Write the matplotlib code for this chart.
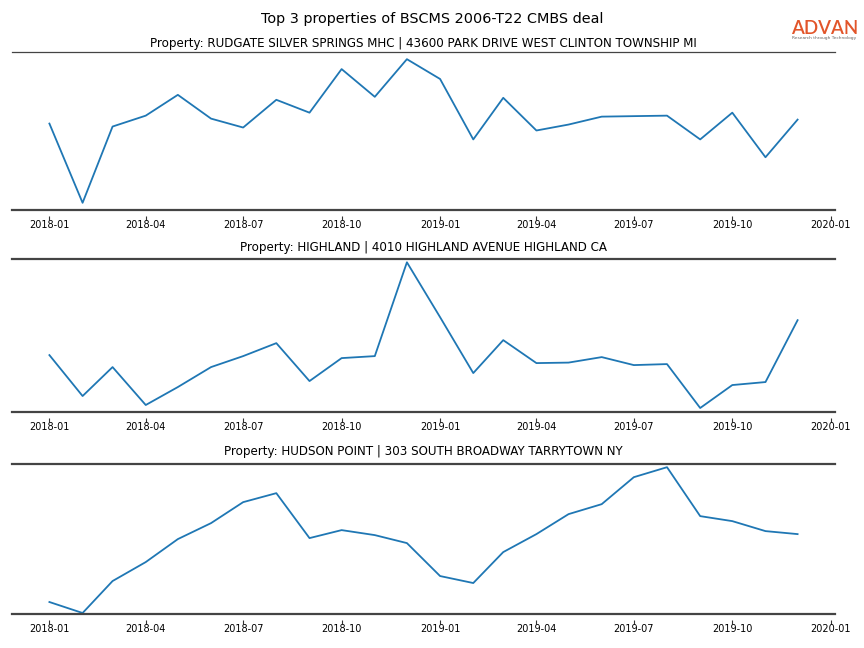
import matplotlib
matplotlib.use("Agg")
import matplotlib.pyplot as plt
import pandas as pd

months = pd.date_range("2018-01-01", "2019-12-01", freq="MS")

titles = [
    "Property: RUDGATE SILVER SPRINGS MHC | 43600 PARK DRIVE WEST CLINTON TOWNSHIP MI",
    "Property: HIGHLAND | 4010 HIGHLAND AVENUE HIGHLAND CA",
    "Property: HUDSON POINT | 303 SOUTH BROADWAY TARRYTOWN NY",
]

rudgate = [96, 16, 93, 104, 125, 101, 92, 120, 107, 151, 123, 161,
           141, 80, 122, 89, 95, 103, 103.5, 104, 80, 107, 62, 100]
highland = [65, 24, 53, 15, 33, 53, 64, 77, 39, 62, 64, 158,
            103, 47, 80, 57, 57.5, 63, 55, 56, 12, 35, 38, 100]
hudson = [18, 7, 39, 58, 81, 97, 118, 127, 82, 90, 85, 77,
          44, 37, 68, 86, 106, 116, 143, 153, 104, 99, 89, 86]

series = [rudgate, highland, hudson]
ylims = [(8.75, 168.25), (8, 161.3), (6, 156.7)]

tick_dates = pd.date_range("2018-01-01", "2020-01-01", freq="3MS")
tick_labels = [d.strftime("%Y-%m") for d in tick_dates]

fig = plt.figure(figsize=(8.64, 6.48), dpi=100)

# axes boxes in pixel coords: (top, bottom)
boxes = [(52, 210), (259, 412), (463.5, 614)]
left, right = 12, 835
W, H = 864, 648
pads = [3.5, 6, 6]
spine_col = "#444444"

for i, (vals, title, ylim, (top, bot)) in enumerate(zip(series, titles, ylims, boxes)):
    ax = fig.add_axes([left / W, 1 - bot / H, (right - left) / W, (bot - top) / H])
    ax.plot(months, vals, color="#1f77b4", lw=1.3)
    ax.set_ylim(*ylim)
    ax.set_xticks(tick_dates)
    ax.set_xticklabels(tick_labels)
    ax.set_yticks([])
    for s in ["left", "right"]:
        ax.spines[s].set_visible(False)
    ax.spines["top"].set_color(spine_col)
    ax.spines["top"].set_linewidth(0.9 if i == 0 else 1.6)
    ax.spines["bottom"].set_position(("outward", 4))
    ax.spines["bottom"].set_visible(False)
    ax.axhline(ylim[0], color=spine_col, lw=1.6, clip_on=False)
    ax.tick_params(axis="x", direction="out", length=3, width=0.8,
                   color="#333333", pad=0.5, labelsize=7)
    ax.set_title(title, fontsize=8.6, pad=pads[i])

fig.text(0.5, 1 - 19 / H, "Top 3 properties of BSCMS 2006-T22 CMBS deal",
         ha="center", va="center", fontsize=10.4)

fig.text(824.5 / W, 1 - 28 / H, "ADVAN", ha="center", va="center",
         fontsize=13.5, family="Lato", weight="semibold", color="#e2552a")
fig.text(824.5 / W, 1 - 38.5 / H, "Research through Technology", ha="center",
         va="center", fontsize=3.2, color="#666666")

fig.savefig("out.png", dpi=100)
